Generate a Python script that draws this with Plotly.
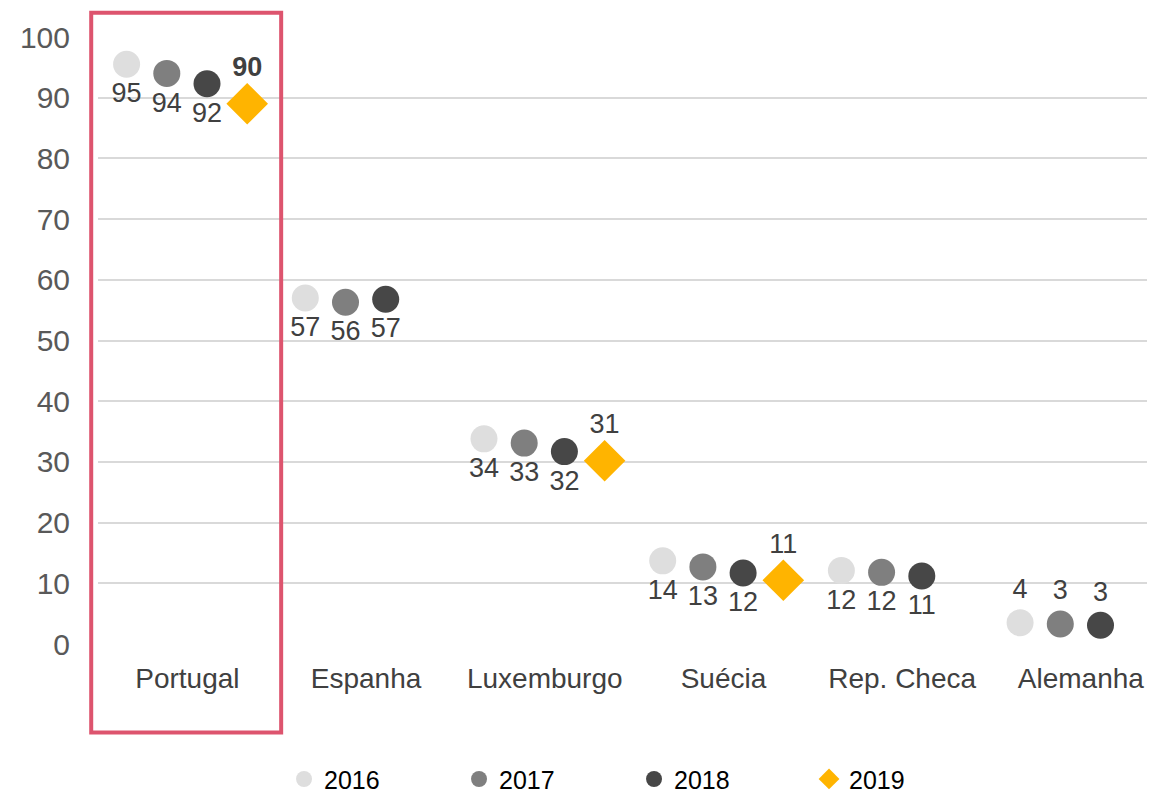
import plotly.graph_objects as go

categories = ["Portugal", "Espanha", "Luxemburgo", "Suécia", "Rep. Checa", "Alemanha"]
years = ["2016", "2017", "2018", "2019"]

values_2016 = [95.5, 57.0, 33.8, 13.7, 12.1, 3.5]
values_2017 = [94.0, 56.3, 33.1, 12.7, 11.8, 3.3]
values_2018 = [92.3, 56.8, 31.7, 11.7, 11.2, 3.1]
values_2019 = [89.0, None, 30.2, 10.5, None, None]

labels_2016 = ["95", "57", "34", "14", "12", "4"]
labels_2017 = ["94", "56", "33", "13", "12", "3"]
labels_2018 = ["92", "57", "32", "12", "11", "3"]
labels_2019 = ["<b>90</b>", "", "31", "11", "", ""]

y_ticks = [0, 10, 20, 30, 40, 50, 60, 70, 80, 90, 100]

# styling
colors = ["#dedede", "#7f7f7f", "#474747", "#ffb400"]
symbols = ["circle", "circle", "circle", "diamond"]
sizes = [27, 27, 27, 32]
offsets = [-0.34, -0.115, 0.11, 0.335]
FONT = "Liberation Sans, Arial, sans-serif"
X_RANGE = [-0.5, 5.415]

series_vals = [values_2016, values_2017, values_2018, values_2019]
series_lbls = [labels_2016, labels_2017, labels_2018, labels_2019]

fig = go.Figure()
for k in range(4):
    xs, ys, ts, pos = [], [], [], []
    for i, v in enumerate(series_vals[k]):
        if v is None:
            continue
        xs.append(i + offsets[k])
        ys.append(v)
        ts.append(series_lbls[k][i])
        if k == 3 or categories[i] == "Alemanha":
            pos.append("top center")
        else:
            pos.append("bottom center")
    fig.add_trace(go.Scatter(
        x=xs, y=ys, mode="markers+text", name=years[k],
        text=ts, textposition=pos,
        textfont=dict(family=FONT, size=27, color="#404040"),
        marker=dict(color=colors[k], symbol=symbols[k], size=sizes[k], line=dict(width=0)),
        cliponaxis=False,
    ))

# highlight box around Portugal (paper coords derived from the x axis range)
pi = categories.index("Portugal")
span = X_RANGE[1] - X_RANGE[0]
fig.add_shape(type="rect", xref="paper", yref="paper",
              x0=(pi - 0.538 - X_RANGE[0]) / span, x1=(pi + 0.525 - X_RANGE[0]) / span,
              y0=-0.146, y1=1.040,
              line=dict(color="#dd546e", width=4), fillcolor="rgba(0,0,0,0)", layer="above")

# page body has an 8px margin: figure size and margins compensate for it
fig.update_layout(
    width=1147, height=791,
    margin=dict(l=90, r=0, t=29, b=155),
    paper_bgcolor="white", plot_bgcolor="white",
    font=dict(family=FONT),
    showlegend=True,
    legend=dict(orientation="h", x=0.176, xanchor="left", xref="paper",
                y=0.025, yanchor="middle", yref="container",
                font=dict(family=FONT, size=25, color="#000000"),
                entrywidth=130, itemsizing="trace"),
    xaxis=dict(range=X_RANGE, tickmode="array", tickvals=list(range(len(categories))),
               ticktext=categories, showgrid=False, zeroline=False, showline=False,
               tickfont=dict(family=FONT, size=28, color="#404040"), ticks="", ticklabelstandoff=15),
    yaxis=dict(range=[0, 100], tickmode="array", tickvals=y_ticks, showgrid=True,
               gridcolor="#d9d9d9", gridwidth=1.5, zeroline=False, showline=False,
               tickfont=dict(family=FONT, size=30, color="#595959"), ticks="", ticklabelstandoff=27),
)

fig.write_html("out.html")
